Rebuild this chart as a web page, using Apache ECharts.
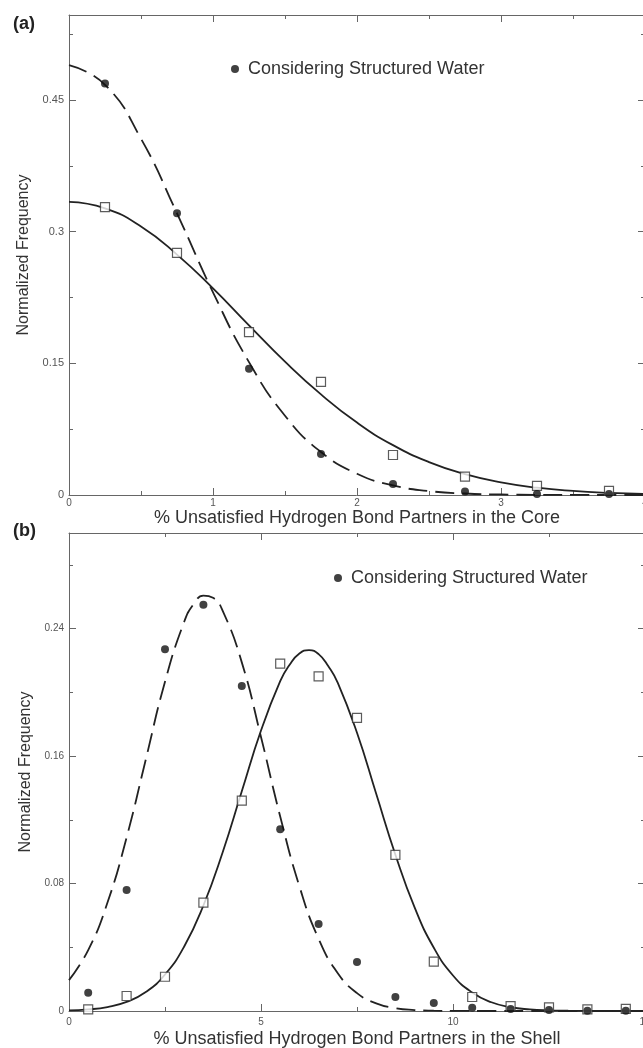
<!DOCTYPE html>
<html><head><meta charset="utf-8">
<script src="https://cdn.jsdelivr.net/npm/echarts@6/dist/echarts.min.js"></script>
<style>html,body{margin:0;padding:0;background:#fff}#c{width:643px;height:1048px}</style>
</head><body><div id="c"></div>
<script>
// ---- Panel (a): core ----
const coreX = [0.25, 0.75, 1.25, 1.75, 2.25, 2.75, 3.25, 3.75];
const coreWater = [0.469, 0.321, 0.144, 0.0467, 0.0125, 0.004, 0.001, 0.001];
const coreNoWater = [0.328, 0.276, 0.1855, 0.129, 0.0456, 0.0209, 0.0103, 0.0046];
const coreFitX = [0, 0.25, 0.5, 0.75, 1, 1.25, 1.5, 1.75, 2, 2.25, 2.5, 2.75, 3, 3.25, 3.5, 3.75, 4];
const coreFitWater = [0.490, 0.4675, 0.406, 0.321, 0.231, 0.1514, 0.0903, 0.049, 0.0242, 0.0109, 0.0045, 0.0017, 0.0006, 0.0002, 0.0001, 0, 0];
const coreFitNoWater = [0.334, 0.3267, 0.306, 0.274, 0.2355, 0.1934, 0.152, 0.1146, 0.0825, 0.0568, 0.0375, 0.0237, 0.0144, 0.0083, 0.0046, 0.0024, 0.0012];
const coreXTicks = [0, 1, 2, 3, 4];
const coreYTicks = [0, 0.15, 0.3, 0.45];

// ---- Panel (b): shell ----
const shellX = [0.5, 1.5, 2.5, 3.5, 4.5, 5.5, 6.5, 7.5, 8.5, 9.5, 10.5, 11.5, 12.5, 13.5, 14.5];
const shellWater = [0.0115, 0.076, 0.227, 0.255, 0.204, 0.114, 0.0546, 0.0307, 0.0088, 0.005, 0.002, 0.0012, 0.0006, 0.0001, 0.0002];
const shellNoWater = [0.001, 0.0094, 0.0215, 0.068, 0.132, 0.218, 0.210, 0.184, 0.098, 0.031, 0.0088, 0.003, 0.0023, 0.001, 0.0013];
const shellFitWaterX = [0, 0.5, 1, 1.5, 2, 2.5, 3, 3.25, 3.5, 3.75, 4, 4.5, 5, 5.5, 6, 6.5, 7, 7.5, 8, 8.5, 9, 9.5, 10, 11, 12, 13, 14, 15];
const shellFitWater = [0.0194, 0.0382, 0.0679, 0.1089, 0.1579, 0.2067, 0.2443, 0.2555, 0.2607, 0.2593, 0.2513, 0.2188, 0.172, 0.1221, 0.0783, 0.0453, 0.0237, 0.0112, 0.0048, 0.0018, 0.0006, 0.0002, 0.0001, 0, 0, 0, 0, 0];
const shellFitNoWaterX = [0, 0.5, 1, 1.5, 2, 2.5, 3, 3.5, 4, 4.5, 5, 5.5, 5.75, 6, 6.25, 6.5, 6.75, 7, 7.5, 8, 8.5, 9, 9.5, 10, 10.5, 11, 11.5, 12, 12.5, 13, 13.5, 14, 15];
const shellFitNoWater = [0.0004, 0.001, 0.0025, 0.0057, 0.0119, 0.0229, 0.0405, 0.0662, 0.0995, 0.1379, 0.176, 0.207, 0.2175, 0.2244, 0.2265, 0.224, 0.2165, 0.206, 0.1746, 0.1363, 0.0981, 0.065, 0.0397, 0.0223, 0.0116, 0.0055, 0.0024, 0.001, 0.0004, 0.0002, 0.0001, 0, 0];
const shellXTicks = [0, 5, 10, 15];
const shellYTicks = [0, 0.08, 0.16, 0.24];

const legendName = 'Considering Structured Water';
const FONT = '"Liberation Sans", Arial, Helvetica, sans-serif';
const AXIS_COLOR = '#666';
const LINE_COLOR = '#222';

const zip = (xs, ys) => xs.map((x, i) => [x, ys[i]]);
const labelFrom = ticks => v => {
  const m = ticks.find(t => Math.abs(t - v) < 1e-6);
  return m === undefined ? '' : String(m);
};

function xAxes(gridIndex, max, interval, ticks, labelMargin, nameText, nameGap) {
  const base = {
    type: 'value', gridIndex, min: 0, max, interval,
    splitLine: { show: false },
    axisLine: { show: true, onZero: false, lineStyle: { color: AXIS_COLOR, width: 1 } },
    axisTick: { show: true, inside: true, length: 7, lineStyle: { color: AXIS_COLOR } },
    minorTick: { show: true, splitNumber: 2, length: 4, lineStyle: { color: AXIS_COLOR } },
    minorSplitLine: { show: false }
  };
  return [
    Object.assign({}, base, {
      position: 'bottom',
      axisLabel: { show: true, margin: labelMargin, color: '#555', fontSize: 10, fontFamily: FONT, formatter: labelFrom(ticks), showMaxLabel: true },
      name: nameText, nameLocation: 'middle', nameGap,
      nameTextStyle: { fontSize: 18, color: '#333', fontFamily: FONT }
    }),
    Object.assign({}, base, { position: 'top', axisLabel: { show: false } })
  ];
}

function yAxes(gridIndex, max, minorInt, majorInt, ticks, labelSize) {
  const common = { type: 'value', gridIndex, min: 0, max, splitLine: { show: false } };
  return [
    Object.assign({}, common, {
      position: 'left', interval: minorInt,
      axisLine: { show: true, lineStyle: { color: AXIS_COLOR, width: 1 } },
      axisTick: { show: true, inside: true, length: 4, lineStyle: { color: AXIS_COLOR } },
      axisLabel: { show: true, margin: 5, color: '#555', fontSize: labelSize, fontFamily: FONT, formatter: labelFrom(ticks) },
      name: 'Normalized Frequency', nameLocation: 'middle', nameGap: 33,
      nameTextStyle: { fontSize: 16, color: '#333', fontFamily: FONT }
    }),
    Object.assign({}, common, {
      position: 'left', interval: majorInt,
      axisLine: { show: false },
      axisTick: { show: true, inside: true, length: 7, lineStyle: { color: AXIS_COLOR } },
      axisLabel: { show: false }
    }),
    Object.assign({}, common, {
      position: 'right', interval: minorInt,
      axisLine: { show: true, lineStyle: { color: AXIS_COLOR, width: 1 } },
      axisTick: { show: true, inside: true, length: 4, lineStyle: { color: AXIS_COLOR } },
      axisLabel: { show: false }
    }),
    Object.assign({}, common, {
      position: 'right', interval: majorInt,
      axisLine: { show: false },
      axisTick: { show: true, inside: true, length: 7, lineStyle: { color: AXIS_COLOR } },
      axisLabel: { show: false }
    })
  ];
}

function panelSeries(xIdx, yIdx, fitWaterData, fitNoWaterData, ptX, water, noWater) {
  return [
    { type: 'line', xAxisIndex: xIdx, yAxisIndex: yIdx, data: fitNoWaterData, showSymbol: false, smooth: 0.5,
      lineStyle: { color: LINE_COLOR, width: 1.8 }, silent: true, z: 2 },
    { type: 'line', xAxisIndex: xIdx, yAxisIndex: yIdx, data: fitWaterData, showSymbol: false, smooth: 0.5,
      lineStyle: { color: LINE_COLOR, width: 1.8, type: [19, 8] }, silent: true, z: 2 },
    { name: 'Without Structured Water', type: 'scatter', xAxisIndex: xIdx, yAxisIndex: yIdx, data: zip(ptX, noWater), symbol: 'rect', symbolSize: 9,
      itemStyle: { color: '#fff', borderColor: '#333', borderWidth: 1.2 }, z: 3 },
    { name: legendName, type: 'scatter', xAxisIndex: xIdx, yAxisIndex: yIdx, data: zip(ptX, water), symbol: 'circle', symbolSize: 8,
      itemStyle: { color: '#111' }, z: 4 }
  ];
}

const legendBase = {
  data: [legendName], icon: 'circle', itemWidth: 8, itemHeight: 8, padding: 0, selectedMode: false,
  textStyle: { fontSize: 18, color: '#333', fontFamily: FONT, padding: [0, 0, 0, 4] }
};

const panelLabel = (letter, top) => ({
  text: '{p|(}{b|' + letter + '}{p|)}', left: 13, top, padding: 0,
  textStyle: { rich: {
    p: { fontSize: 18, color: '#222', fontFamily: FONT },
    b: { fontSize: 18, color: '#222', fontWeight: 'bold', fontFamily: FONT }
  } }
});

const option = {
  animation: false,
  backgroundColor: '#fff',
  title: [panelLabel('a', 15), panelLabel('b', 522)],
  legend: [
    Object.assign({}, legendBase, { left: 231, top: 60 }),
    Object.assign({}, legendBase, { left: 334, top: 569 })
  ],
  grid: [
    { left: 69, top: 15, width: 576, height: 480, outerBoundsMode: 'none', containLabel: false },
    { left: 69, top: 533, width: 576, height: 478, outerBoundsMode: 'none', containLabel: false }
  ],
  xAxis: [].concat(
    xAxes(0, 4, 1, coreXTicks, 3, '% Unsatisfied Hydrogen Bond Partners in the Core', 12),
    xAxes(1, 15, 5, shellXTicks, 6, '% Unsatisfied Hydrogen Bond Partners in the Shell', 19)
  ),
  yAxis: [].concat(
    yAxes(0, 0.547, 0.075, 0.15, coreYTicks, 11),
    yAxes(1, 0.3, 0.04, 0.08, shellYTicks, 10)
  ),
  series: [].concat(
    panelSeries(0, 0, zip(coreFitX, coreFitWater), zip(coreFitX, coreFitNoWater), coreX, coreWater, coreNoWater),
    panelSeries(2, 4, zip(shellFitWaterX, shellFitWater), zip(shellFitNoWaterX, shellFitNoWater), shellX, shellWater, shellNoWater)
  )
};

const chart = echarts.init(document.getElementById('c'));
chart.setOption(option);
</script>
</body></html>
